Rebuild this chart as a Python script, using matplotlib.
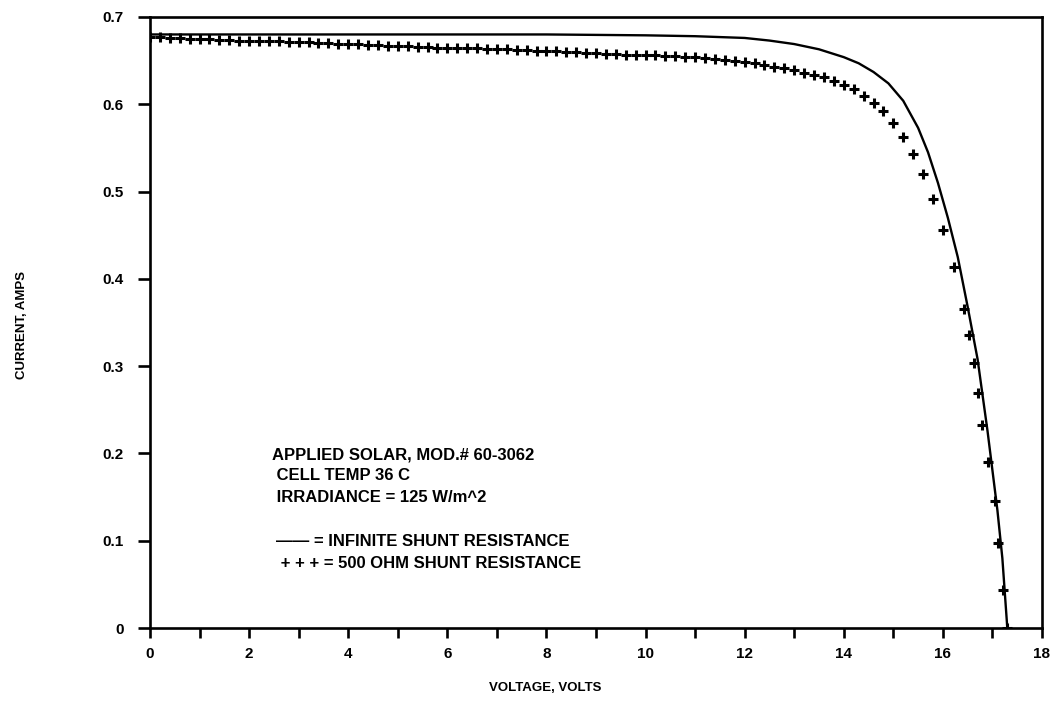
import matplotlib
matplotlib.use("Agg")
import matplotlib.pyplot as plt

# I-V curve of the module with infinite shunt resistance (solid line)
v_inf = [0.0, 4.0, 8.0, 10.0, 11.0, 12.0, 12.5, 13.0, 13.5, 14.0, 14.3, 14.6,
         14.9, 15.2, 15.5, 15.7, 15.9, 16.1, 16.3, 16.5, 16.7, 16.9, 17.1,
         17.2, 17.3]
i_inf = [0.680, 0.680, 0.680, 0.679, 0.678, 0.676, 0.673, 0.669, 0.663, 0.654,
         0.647, 0.637, 0.624, 0.604, 0.573, 0.545, 0.510, 0.470, 0.425, 0.368,
         0.308, 0.226, 0.135, 0.080, 0.000]

# I-V points with a 500 ohm shunt resistance (plus markers)
v_500 = [0.0, 0.2, 0.4, 0.6, 0.8, 1.0, 1.2, 1.4, 1.6, 1.8,
         2.0, 2.2, 2.4, 2.6, 2.8, 3.0, 3.2, 3.4, 3.6, 3.8,
         4.0, 4.2, 4.4, 4.6, 4.8, 5.0, 5.2, 5.4, 5.6, 5.8,
         6.0, 6.2, 6.4, 6.6, 6.8, 7.0, 7.2, 7.4, 7.6, 7.8,
         8.0, 8.2, 8.4, 8.6, 8.8, 9.0, 9.2, 9.4, 9.6, 9.8,
         10.0, 10.2, 10.4, 10.6, 10.8, 11.0, 11.2, 11.4, 11.6, 11.8,
         12.0, 12.2, 12.4, 12.6, 12.8, 13.0, 13.2, 13.4, 13.6, 13.8,
         14.0, 14.2, 14.4, 14.6, 14.8, 15.0, 15.2, 15.4, 15.6, 15.8,
         16.01, 16.22, 16.42, 16.52, 16.62, 16.70, 16.79, 16.92, 17.05,
         17.11, 17.21, 17.29]
i_500 = [0.677, 0.677, 0.676, 0.676, 0.675, 0.675, 0.675, 0.674, 0.674, 0.673,
         0.673, 0.673, 0.672, 0.672, 0.671, 0.671, 0.671, 0.670, 0.670, 0.669,
         0.669, 0.669, 0.668, 0.668, 0.667, 0.667, 0.667, 0.666, 0.666, 0.665,
         0.665, 0.665, 0.664, 0.664, 0.663, 0.663, 0.663, 0.662, 0.662, 0.661,
         0.661, 0.661, 0.660, 0.660, 0.659, 0.659, 0.658, 0.658, 0.657, 0.657,
         0.656, 0.656, 0.655, 0.655, 0.654, 0.654, 0.653, 0.652, 0.651, 0.650,
         0.649, 0.647, 0.645, 0.643, 0.641, 0.639, 0.636, 0.633, 0.631, 0.627,
         0.622, 0.617, 0.610, 0.601, 0.592, 0.579, 0.563, 0.543, 0.520, 0.492,
         0.456, 0.414, 0.365, 0.336, 0.304, 0.269, 0.232, 0.190, 0.146,
         0.097, 0.044, 0.000]

x_ticks = [0, 2, 4, 6, 8, 10, 12, 14, 16, 18]
x_minor = [1, 3, 5, 7, 9, 11, 13, 15, 17]
y_ticks = [0, 0.1, 0.2, 0.3, 0.4, 0.5, 0.6, 0.7]
y_tick_labels = ["0", "0.1", "0.2", "0.3", "0.4", "0.5", "0.6", "0.7"]

note_lines = ["APPLIED SOLAR, MOD.# 60-3062",
              " CELL TEMP 36 C",
              " IRRADIANCE = 125 W/m^2"]
legend_lines = ["—— = INFINITE SHUNT RESISTANCE",
                " + + + = 500 OHM SHUNT RESISTANCE"]

plt.rcParams["font.family"] = ["Liberation Sans", "DejaVu Sans"]
plt.rcParams["font.weight"] = "bold"

W, H = 1057, 706
fig = plt.figure(figsize=(W / 100, H / 100), dpi=100)
ax = fig.add_axes([150 / W, 1 - 628 / H, (1042 - 150) / W, (628 - 17) / H])

ax.plot(v_inf, i_inf, color="black", lw=1.7, solid_capstyle="round")
ax.plot(v_500, i_500, ls="none", marker="+", ms=7, mew=2.2, color="black")

ax.set_xlim(0, 18)
ax.set_ylim(0, 0.7)
ax.set_xticks(x_ticks)
ax.set_xticks(x_minor, minor=True)
ax.set_yticks(y_ticks)
ax.set_yticklabels(y_tick_labels)

for s in ax.spines.values():
    s.set_linewidth(1.9)
ax.tick_params(axis="x", which="both", direction="out", length=7.5,
               width=1.9, labelsize=11, pad=6)
ax.tick_params(axis="y", which="both", direction="out", length=9,
               width=1.9, labelsize=11, pad=10)
for lab in ax.get_xticklabels() + ax.get_yticklabels():
    lab.set_fontweight("bold")

fig.text(545 / W, 1 - 688 / H, "VOLTAGE, VOLTS", ha="center", va="center",
         fontsize=9.5, fontweight="bold")
fig.text(22 / W, 1 - 325 / H, "CURRENT, AMPS", ha="center", va="center",
         rotation=90, fontsize=9.5, fontweight="bold")

for txt, y in zip(note_lines, [455, 476, 498]):
    fig.text(272 / W, 1 - y / H, txt, ha="left", va="center",
             fontsize=12, fontweight="bold")
for txt, y in zip(legend_lines, [541, 563]):
    fig.text(276 / W, 1 - y / H, txt, ha="left", va="center",
             fontsize=12, fontweight="bold")

fig.savefig("out.png", dpi=100, facecolor="white")
